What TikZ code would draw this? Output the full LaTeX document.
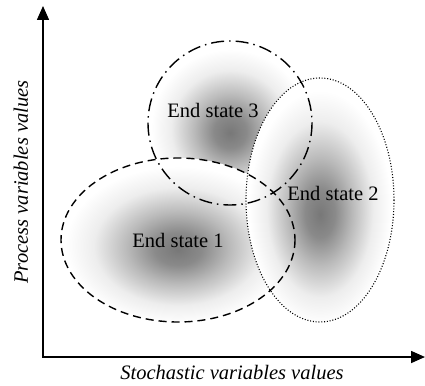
\documentclass[tikz,border=0pt]{standalone}
\usepackage{fontspec}
\setmainfont{Liberation Serif}
\usetikzlibrary{arrows.meta}
\pgfdeclareradialshading{blob}{\pgfpoint{0bp}{-3bp}}{%
  color(0bp)=(black!53);
  color(5bp)=(black!46);
  color(11bp)=(black!27);
  color(18bp)=(black!7);
  color(24bp)=(white);
  color(50bp)=(white)}
\tikzset{
  axis/.style={line width=1.6pt,{Triangle[width=12pt,length=14pt]}-{Triangle[width=12pt,length=14pt]}},
  rim/.style={line width=1.4pt},
  lbl/.style={font=\fontsize{20.5}{24}\selectfont,inner sep=0pt},
  axlbl/.style={font=\fontsize{20.5}{24}\selectfont\itshape,inner sep=0pt},
}
\begin{document}
\begin{tikzpicture}[x=1pt,y=-1pt]
\useasboundingbox (0,0) rectangle (425,385);
% centres
\coordinate (c1) at (178,240);
\coordinate (c2) at (320,200);
\coordinate (c3) at (230,123);
% shadings (order: 3, 1, 2)
\path[shading=blob] (c3) ellipse [x radius=82, y radius=82];
\path[shading=blob] (c1) ellipse [x radius=117, y radius=82];
\path[shading=blob] (c2) ellipse [x radius=74, y radius=122];
% outlines
\draw[rim, dash pattern=on 13pt off 5pt on 1.5pt off 5pt] (c3) ellipse [x radius=82, y radius=82];
\draw[rim, dash pattern=on 8pt off 5pt] (c1) ellipse [x radius=117, y radius=82];
\draw[line width=1.1pt, dash pattern=on 1pt off 1.8pt] (c2) ellipse [x radius=74, y radius=122];
% labels
\node[lbl] (l1) at (178,240) {End state 1};
\node[lbl] (l3) at (213,110) {End state 3};
\node[lbl] (l2) at (333,193) {End state 2};
% axes
\coordinate (O) at (43,357);
\coordinate (ytip) at (43,6);
\coordinate (xtip) at (425,357);
\draw[axis] (ytip) -- (O) -- (xtip);
\node[axlbl] (xl) at (232,373) {Stochastic variables values};
\node[axlbl,rotate=90] (yl) at (21,182) {Process variables values};
\end{tikzpicture}
\end{document}
